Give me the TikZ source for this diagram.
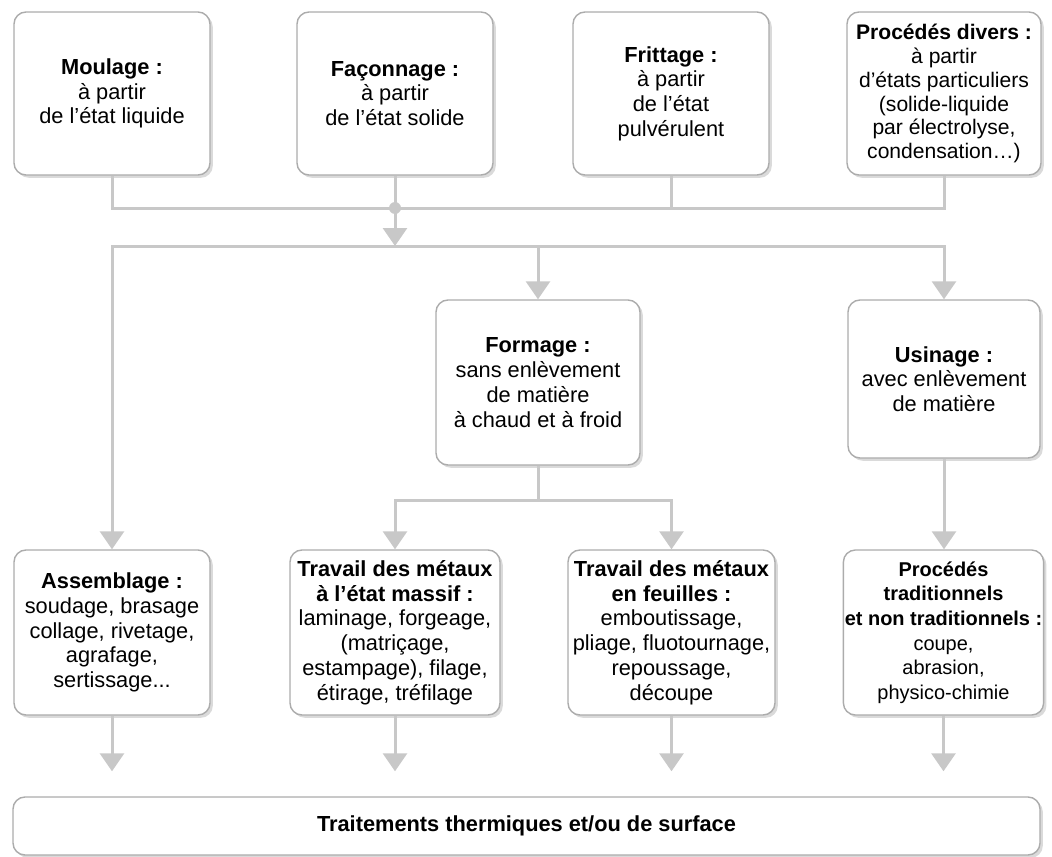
\documentclass[tikz,border=0pt]{standalone}
\usepackage{fontspec}
\setmainfont{Liberation Sans}
\usetikzlibrary{arrows.meta,shadows,calc}
\definecolor{trait}{RGB}{200,200,200}
\definecolor{bord}{RGB}{172,172,172}
\definecolor{ombre}{RGB}{218,218,218}
\tikzset{
  boite/.style={draw=bord, line width=0.35mm, rounded corners=3mm, fill=white,
    align=center, inner sep=1pt, font=\fontsize{15.5}{17.6}\selectfont,
    drop shadow={shadow xshift=0.7mm, shadow yshift=-0.7mm, fill=ombre, opacity=1}},
  haut/.style={boite, minimum width=49mm, minimum height=40.75mm},
  bas/.style={boite, minimum height=41.25mm},
  lien/.style={draw=trait, line width=0.75mm},
  fleche/.style={lien, -{Triangle[width=6mm,length=4.5mm]}}
}

\begin{document}
\begin{tikzpicture}[x=0.25mm,y=-0.25mm]
    \useasboundingbox (0,0) rectangle (1052,857);

    % etats de depart
    \node[haut] (moulage) at (112,93.5) {\textbf{Moulage :}\\à partir\\de l'état liquide};
    \node[haut] (faconnage) at (395,93.5) {\textbf{Façonnage :}\\à partir\\de l'état solide};
    \node[haut] (frittage) at (671,93.5) {\textbf{Frittage :}\\à partir\\de l'état\\pulvérulent};
    \node[haut, minimum width=48.5mm, font=\fontsize{15}{17}\selectfont] (divers) at (944,93.5)
        {\textbf{Procédés divers :}\\à partir\\d'états particuliers\\(solide-liquide\\par électrolyse,\\condensation…)};

    % formage et usinage
    \node[bas, minimum width=51mm] (formage) at (538,382.5)
        {\textbf{Formage :}\\sans enlèvement\\de matière\\à chaud et à froid};
    \node[boite, minimum width=48mm, minimum height=39.5mm] (usinage) at (944,379)
        {\textbf{Usinage :}\\avec enlèvement\\de matière};

    % procedes
    \node[bas, minimum width=49mm] (assemblage) at (112,632.5)
        {\textbf{Assemblage :}\\soudage, brasage\\collage, rivetage,\\agrafage,\\sertissage...};
    \node[bas, minimum width=52.5mm] (massif) at (395,632.5)
        {\textbf{Travail des métaux}\\\textbf{à l'état massif :}\\laminage, forgeage,\\(matriçage,\\estampage), filage,\\étirage, tréfilage};
    \node[bas, minimum width=51.75mm] (feuilles) at (671.5,632.5)
        {\textbf{Travail des métaux}\\\textbf{en feuilles :}\\emboutissage,\\pliage, fluotournage,\\repoussage,\\découpe};
    \node[bas, minimum width=49.25mm, font=\fontsize{14.2}{17.5}\selectfont] (trad) at (943.5,632.5)
        {\textbf{Procédés}\\\textbf{traditionnels}\\\textbf{et non traditionnels :}\\coupe,\\abrasion,\\physico-chimie};

    \node[boite, minimum width=256.75mm, minimum height=14.5mm] (traitements) at (526.5,826)
        {\textbf{Traitements thermiques et/ou de surface}};

    % liaisons
    \coordinate (j1) at (395,208);
    \coordinate (j2) at (395,246);
    \coordinate (j3) at (538,500);
    \draw[lien] (moulage.south) |- (divers.south |- j1) -- (divers.south);
    \draw[lien] (faconnage.south) -- (j1);
    \draw[lien] (frittage.south) -- (frittage.south |- j1);
    \fill[trait] (j1) circle (6);
    \draw[fleche] (j1) -- (j2);
    \draw[fleche] (j2) -| (assemblage.north);
    \draw[fleche] (j2) -| (usinage.north);
    \draw[fleche] (formage.north |- j2) -- (formage.north);
    \draw[lien] (formage.south) -- (j3);
    \draw[fleche] (j3) -| (massif.north);
    \draw[fleche] (j3) -| (feuilles.north);
    \draw[fleche] (usinage.south) -- (usinage.south |- trad.north);
    \foreach \n in {assemblage,massif,feuilles,trad}
        \draw[fleche, shorten >=6.25mm] (\n.south) -- (\n.south |- traitements.north);
\end{tikzpicture}
\end{document}
